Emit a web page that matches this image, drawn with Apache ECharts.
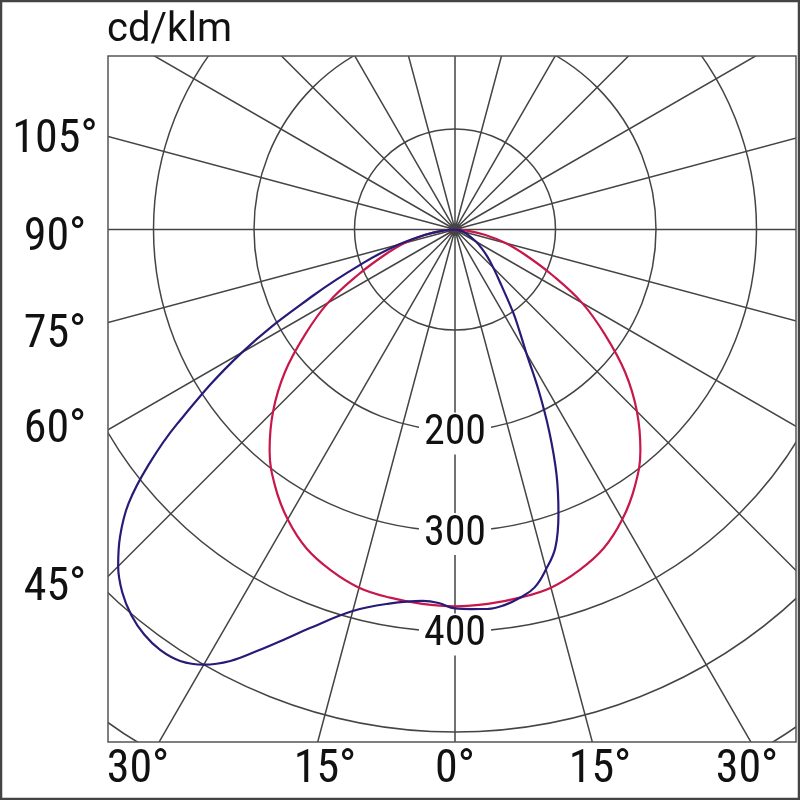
<!DOCTYPE html>
<html>
<head>
<meta charset="utf-8">
<style>
  html, body { margin: 0; padding: 0; background: #ffffff; }
  #chart { width: 800px; height: 800px; }
</style>
<script src="https://cdn.jsdelivr.net/npm/echarts@6/dist/echarts.min.js"></script>
</head>
<body>
<div id="chart"></div>
<script>
// ---- data (cd/klm versus gamma angle, 0° = straight down, negative = left half) ----
const redGamma  = [0, 5, 10, 15, 20, 25, 30, 35, 40, 45, 50, 55, 60, 65, 70, 75, 80, 85, 90];
const redValues = [375, 374, 372, 369, 361, 350, 333, 312, 287, 256, 221, 182, 146, 106, 75, 52, 30, 12, 0];

const blueGamma  = [-90, -85, -80, -75, -70, -65, -60, -55, -52.5, -50, -47.5, -45, -42.5, -40, -37.5, -35, -32.5,
                    -30, -27.5, -25, -22.5, -20, -15, -10, -5, -2.5,
                    0, 2.5, 5, 7.5, 10, 12.5, 15, 17.5, 20, 22.5, 25, 27.5, 30, 32.5, 35, 40, 45, 50, 55, 60, 70, 80, 90];
const blueValues = [0, 12, 30, 58, 97, 156, 245, 338, 384, 424, 452, 474, 490, 501, 508, 511, 509,
                    500, 484, 462, 441, 422, 393, 378, 371, 372,
                    377, 378, 379, 377, 372, 365, 350, 332, 301, 264, 222, 180, 142, 119, 101, 71, 54, 42, 32, 24, 12, 5, 0];

const ringLabels   = [200, 300, 400];
const unitLabel    = 'cd/klm';
const leftLabels   = ['105°', '90°', '75°', '60°', '45°'];
const bottomLabels = ['30°', '15°', '0°', '15°', '30°'];

// ---- layout ----
const CX = 455, CY = 229.5, PX_PER_UNIT = 1.005, RMAX = 700;
const FRAME = { x: 108, y: 56, w: 688, h: 686 };
const leftLabelY   = [140, 238, 335, 430, 588];
const leftLabelX   = 55;
const bottomLabelX = [138, 325, 455, 600, 747];
const bottomLabelY = 770;
const LABEL_FONT = '"Liberation Sans Narrow", "Roboto Condensed", Roboto, sans-serif';

const toAngle = g => (g < 0 ? 360 + g : g);

// red curve is symmetric: build left + right halves from the read values
const redData = [];
for (let i = redGamma.length - 1; i > 0; i--) redData.push([redValues[i], toAngle(-redGamma[i])]);
for (let i = 0; i < redGamma.length; i++) redData.push([redValues[i], toAngle(redGamma[i])]);

const blueData = blueGamma.map((g, i) => [blueValues[i], toAngle(g)]);
const ringData = ringLabels.map(v => [v, 0]);

const gridColor = '#444444';

const graphics = [];
// white masks outside the plotting frame
graphics.push({ type: 'rect', z: 100, shape: { x: 0, y: 0, width: 800, height: FRAME.y }, style: { fill: '#fff' } });
graphics.push({ type: 'rect', z: 100, shape: { x: 0, y: FRAME.y + FRAME.h, width: 800, height: 800 - FRAME.y - FRAME.h }, style: { fill: '#fff' } });
graphics.push({ type: 'rect', z: 100, shape: { x: 0, y: 0, width: FRAME.x, height: 800 }, style: { fill: '#fff' } });
graphics.push({ type: 'rect', z: 100, shape: { x: FRAME.x + FRAME.w, y: 0, width: 800 - FRAME.x - FRAME.w, height: 800 }, style: { fill: '#fff' } });
// plot frame
graphics.push({ type: 'rect', z: 101, shape: { x: FRAME.x, y: FRAME.y, width: FRAME.w, height: FRAME.h },
  style: { fill: 'none', stroke: '#555', lineWidth: 1.5 } });
// outer border
graphics.push({ type: 'rect', z: 101, shape: { x: 1, y: 1, width: 798, height: 798 },
  style: { fill: 'none', stroke: '#444', lineWidth: 2.5 } });
// unit title
graphics.push({ type: 'text', z: 102, x: 107, y: 31,
  style: { text: unitLabel, fill: '#111', font: '40px Roboto, sans-serif', align: 'left', verticalAlign: 'middle' } });
leftLabels.forEach((t, i) => graphics.push({ type: 'text', z: 102, x: leftLabelX, y: leftLabelY[i],
  style: { text: t, fill: '#111', font: '46px ' + LABEL_FONT, align: 'center', verticalAlign: 'middle' } }));
bottomLabels.forEach((t, i) => graphics.push({ type: 'text', z: 102, x: bottomLabelX[i], y: bottomLabelY,
  style: { text: t, fill: '#111', font: '46px ' + LABEL_FONT, align: 'center', verticalAlign: 'middle' } }));

const chart = echarts.init(document.getElementById('chart'), null, { renderer: 'canvas' });
chart.setOption({
  animation: false,
  backgroundColor: '#ffffff',
  polar: { center: [CX, CY], radius: RMAX * PX_PER_UNIT },
  angleAxis: {
    type: 'value', min: 0, max: 360, interval: 15, startAngle: 270, clockwise: false,
    axisLine: { show: false }, axisTick: { show: false }, axisLabel: { show: false },
    splitLine: { show: true, lineStyle: { color: gridColor, width: 1.5 } }
  },
  radiusAxis: {
    type: 'value', min: 0, max: RMAX, interval: 100,
    axisLine: { show: false }, axisTick: { show: false }, axisLabel: { show: false },
    splitLine: { show: true, lineStyle: { color: gridColor, width: 1.5 } }
  },
  series: [
    {
      type: 'line', coordinateSystem: 'polar', data: redData, smooth: 0.4, symbol: 'none', z: 5,
      lineStyle: { color: '#c8174a', width: 2.2 }
    },
    {
      type: 'line', coordinateSystem: 'polar', data: blueData, smooth: 0.4, symbol: 'none', z: 6,
      lineStyle: { color: '#261c78', width: 2.2 }
    },
    {
      type: 'scatter', coordinateSystem: 'polar', data: ringData, symbolSize: 0, z: 8, silent: true,
      itemStyle: { opacity: 1 },
      label: {
        show: true, position: 'inside', offset: [0, 3],
        formatter: p => String(p.value[0]),
        fontSize: 42, fontFamily: LABEL_FONT, color: '#111', opacity: 1,
        backgroundColor: '#fff', padding: [0, 5]
      }
    }
  ],
  graphic: graphics
});
</script>
</body>
</html>
